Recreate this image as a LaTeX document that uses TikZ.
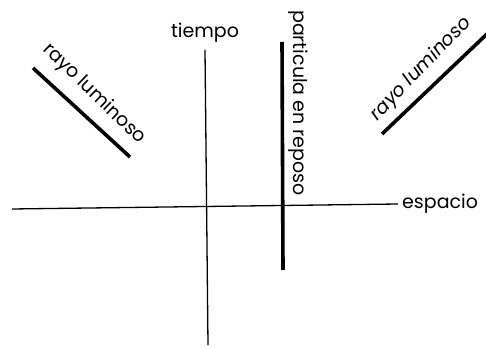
\documentclass[tikz,border=0pt]{standalone}
\usepackage{fontspec}
\setmainfont{Poppins}

\begin{document}
\begin{tikzpicture}[
  x=1pt, y=1pt,
  axis/.style={line width=1.3pt},
  worldline/.style={line width=3.6pt},
  lbl/.style={font=\fontsize{19}{22}\selectfont, inner sep=0pt}
]
  \useasboundingbox (0,0) rectangle (486,347);
  % axes
  \coordinate (xl) at (12,138);
  \coordinate (xr) at (398,143);
  \coordinate (tt) at (205,297);
  \coordinate (tb) at (208,2);
  \draw[axis] (xl) -- (xr);
  \draw[axis] (tb) -- (tt);
  \node[lbl, anchor=west] (espacio) at (402,143) {espacio};
  \node[lbl] (tiempo) at (205,314) {tiempo};
  % particula en reposo
  \coordinate (pt) at (282,305);
  \coordinate (pb) at (283,77);
  \draw[worldline] (pt) -- (pb);
  \node[lbl, rotate=-90] (reposo) at (298,244) {particula en reposo};
  % rayo luminoso (izquierda)
  \coordinate (la) at (33,279);
  \coordinate (lb) at (130,190);
  \draw[worldline] (la) -- (lb);
  \node[lbl, rotate=-44] (rayoL) at (94,253) {rayo luminoso};
  % rayo luminoso (derecha)
  \coordinate (ra) at (382,213);
  \coordinate (rb) at (488,314);
  \draw[worldline] (ra) -- (rb);
  \node[lbl, font=\fontsize{19}{22}\selectfont\itshape, rotate=46] (rayoR) at (421,278) {rayo luminoso};
\end{tikzpicture}
\end{document}
